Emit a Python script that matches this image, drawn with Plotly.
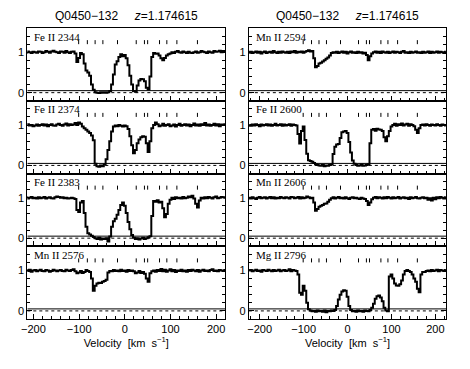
import plotly.graph_objects as go

# ---------------- data ----------------
VELOCITY = [
    -224, -220, -216, -212, -208, -204, -200, -196, -192, -188,
    -184, -180, -176, -172, -168, -164, -160, -156, -152, -148,
    -144, -140, -136, -132, -128, -124, -120, -116, -112, -108,
    -104, -100, -96, -92, -88, -84, -80, -76, -72, -68,
    -64, -60, -56, -52, -48, -44, -40, -36, -32, -28,
    -24, -20, -16, -12, -8, -4, 0, 4, 8, 12,
    16, 20, 24, 28, 32, 36, 40, 44, 48, 52,
    56, 60, 64, 68, 72, 76, 80, 84, 88, 92,
    96, 100, 104, 108, 112, 116, 120, 124, 128, 132,
    136, 140, 144, 148, 152, 156, 160, 164, 168, 172,
    176, 180, 184, 188, 192, 196, 200, 204, 208, 212,
    216, 220, 224,
]

FEII_2344 = [
    1.00, 1.01, 0.99, 1.02, 1.00, 0.98, 1.01, 1.00, 0.99, 1.02,
    1.01, 0.98, 1.00, 1.03, 1.01, 0.99, 1.02, 1.04, 1.01, 1.00,
    0.98, 1.02, 1.01, 0.99, 1.03, 1.00, 0.98, 1.01, 1.02, 0.97,
    0.76, 0.86, 0.98, 0.95, 0.72, 0.55, 0.50, 0.42, 0.20, 0.07,
    0.01, 0.00, -0.01, 0.01, 0.00, 0.01, 0.00, 0.01, 0.04, 0.20,
    0.45, 0.70, 0.78, 0.88, 0.95, 0.90, 0.93, 0.85, 0.68, 0.42,
    0.20, 0.04, 0.02, 0.18, 0.30, 0.34, 0.33, 0.28, 0.12, 0.08,
    0.40, 0.88, 0.98, 0.96, 0.97, 0.92, 0.85, 0.80, 0.86, 0.92,
    0.95, 0.97, 1.00, 0.98, 1.01, 1.03, 1.00, 0.99, 1.02, 1.00,
    0.98, 1.01, 0.99, 0.98, 1.00, 1.02, 0.99, 1.00, 1.03, 1.01,
    1.00, 0.98, 1.02, 1.00, 0.99, 1.03, 1.01, 1.02, 1.04, 1.00,
    1.03, 1.01, 1.00,
]

FEII_2374 = [
    1.00, 0.98, 1.01, 1.02, 0.99, 1.00, 0.97, 0.99, 1.01, 0.98,
    1.00, 1.02, 0.99, 1.01, 0.97, 1.00, 1.02, 0.99, 0.98, 1.01,
    1.03, 1.00, 0.98, 1.01, 1.04, 0.99, 1.02, 1.00, 1.01, 1.05,
    1.00, 1.06, 1.03, 0.96, 0.92, 0.88, 0.84, 0.80, 0.74, 0.62,
    0.04, -0.02, -0.03, 0.00, -0.02, 0.02, 0.15, 0.38, 0.60, 0.84,
    0.96, 0.99, 0.97, 1.00, 0.98, 0.96, 0.99, 0.97, 0.90, 0.72,
    0.50, 0.30, 0.38, 0.55, 0.64, 0.70, 0.72, 0.71, 0.55, 0.33,
    0.60, 0.92, 1.00, 1.06, 1.02, 0.97, 0.99, 1.03, 0.98, 1.00,
    1.02, 0.97, 0.99, 1.01, 0.96, 1.00, 1.03, 0.98, 1.00, 1.02,
    0.99, 1.01, 0.97, 1.00, 1.04, 0.99, 1.01, 0.98, 1.02, 1.00,
    1.05, 0.99, 1.01, 0.98, 1.00, 1.03, 0.99, 1.02, 0.97, 1.01,
    1.00, 1.02, 0.99,
]

FEII_2383 = [
    1.00, 0.99, 1.01, 0.98, 1.00, 1.02, 0.99, 1.00, 0.98, 1.01,
    0.99, 1.00, 1.02, 0.98, 1.00, 1.01, 0.99, 0.98, 1.01, 1.03,
    1.02, 1.00, 1.01, 0.99, 1.00, 0.98, 0.99, 1.00, 0.99, 0.97,
    0.70, 0.65, 0.88, 0.92, 0.62, 0.28, 0.12, 0.09, 0.06, 0.03,
    0.00, -0.02, 0.01, -0.03, -0.01, -0.02, 0.00, -0.08, 0.04, 0.28,
    0.42, 0.48, 0.58, 0.70, 0.82, 0.88, 0.80, 0.62, 0.40, 0.22,
    0.08, 0.01, -0.02, 0.00, -0.03, -0.01, 0.01, -0.02, 0.00, 0.02,
    0.05, 0.55, 0.92, 0.90, 0.94, 0.88, 0.90, 0.74, 0.52, 0.60,
    0.85, 0.95, 1.00, 0.97, 1.01, 0.99, 1.00, 0.98, 1.02, 0.99,
    1.00, 1.03, 1.01, 1.05, 0.98, 0.85, 0.76, 0.93, 1.00, 0.98,
    1.01, 0.99, 1.02, 1.00, 0.98, 1.01, 1.03, 0.99, 1.00, 1.02,
    1.01, 1.00, 0.99,
]

MNII_2576 = [
    1.00, 0.98, 1.01, 0.99, 1.02, 0.97, 1.00, 1.01, 0.98, 1.00,
    1.02, 0.99, 0.98, 1.01, 1.00, 0.97, 0.99, 1.02, 1.00, 0.98,
    1.00, 1.01, 0.99, 0.98, 1.02, 1.00, 0.99, 1.01, 1.03, 0.98,
    0.93, 0.95, 0.99, 0.94, 0.96, 1.01, 0.99, 0.96, 0.80, 0.50,
    0.62, 0.68, 0.70, 0.69, 0.72, 0.74, 0.77, 0.95, 0.99, 0.98,
    1.01, 0.99, 1.00, 0.98, 1.02, 0.99, 1.00, 0.97, 1.01, 0.99,
    1.00, 0.98, 0.93, 0.95, 0.99, 0.94, 0.96, 0.92, 0.80, 0.72,
    0.93, 0.98, 1.00, 0.97, 1.01, 0.99, 1.04, 0.98, 1.02, 0.97,
    1.00, 1.03, 0.98, 1.01, 0.96, 1.00, 0.99, 1.02, 0.98, 1.00,
    0.97, 1.01, 0.99, 1.02, 1.00, 0.98, 1.01, 0.97, 1.00, 1.02,
    0.99, 1.00, 0.98, 1.01, 1.03, 0.99, 1.00, 0.98, 1.01, 1.00,
    0.99, 1.01, 1.00,
]

MNII_2594 = [
    0.99, 1.01, 0.98, 1.00, 1.02, 0.99, 1.01, 0.97, 1.00, 1.02,
    0.98, 1.00, 1.01, 0.99, 1.03, 1.00, 0.98, 1.01, 0.99, 1.02,
    1.00, 0.99, 1.01, 0.98, 1.02, 1.00, 1.03, 0.99, 1.01, 1.00,
    1.02, 0.99, 1.01, 1.03, 1.05, 1.02, 1.03, 0.85, 0.63, 0.66,
    0.72, 0.74, 0.77, 0.80, 0.84, 0.87, 0.92, 0.98, 1.00, 0.99,
    1.01, 0.98, 1.00, 1.02, 0.99, 1.01, 0.97, 1.00, 1.02, 0.99,
    1.00, 0.98, 1.01, 0.99, 1.00, 0.97, 0.99, 0.93, 0.80, 0.90,
    0.97, 1.00, 1.02, 0.99, 1.01, 0.98, 1.02, 1.00, 0.99, 1.01,
    0.98, 1.00, 1.02, 0.99, 1.01, 1.00, 0.98, 1.01, 1.03, 0.99,
    1.00, 0.98, 1.01, 0.99, 1.00, 1.02, 0.99, 1.00, 0.98, 1.01,
    0.99, 1.00, 1.02, 0.98, 1.01, 0.99, 1.00, 1.02, 0.99, 1.01,
    1.00, 0.98, 1.01,
]

FEII_2600 = [
    1.00, 0.98, 1.01, 0.99, 1.02, 1.00, 0.97, 1.01, 0.99, 1.00,
    1.02, 0.99, 1.01, 0.98, 1.00, 1.03, 0.99, 1.00, 1.02, 0.98,
    1.01, 0.99, 1.00, 1.02, 0.98, 1.01, 1.00, 0.99, 0.78, 0.54,
    0.85, 0.96, 0.63, 0.29, 0.13, 0.11, 0.09, 0.06, 0.03, 0.01,
    0.00, -0.01, 0.01, -0.02, 0.00, -0.01, 0.01, 0.02, 0.28, 0.46,
    0.52, 0.53, 0.68, 0.82, 0.84, 0.85, 0.80, 0.58, 0.32, 0.12,
    0.04, 0.01, -0.01, 0.00, 0.02, -0.01, 0.00, 0.01, 0.03, 0.55,
    0.88, 0.90, 0.86, 0.91, 0.89, 0.88, 0.85, 0.70, 0.60, 0.72,
    0.85, 0.96, 1.00, 1.03, 0.98, 1.02, 1.00, 1.04, 0.99, 1.01,
    1.03, 0.98, 1.02, 1.00, 0.97, 0.88, 0.80, 0.92, 1.00, 1.01,
    0.99, 1.02, 1.00, 0.98, 1.01, 1.00, 0.99, 1.02, 1.00, 0.98,
    1.01, 1.00, 0.99,
]

MNII_2606 = [
    1.00, 0.98, 1.01, 0.99, 0.97, 1.00, 1.02, 0.99, 1.00, 1.01,
    0.98, 1.00, 1.02, 0.99, 1.01, 0.98, 1.00, 0.99, 1.02, 1.00,
    0.99, 1.01, 1.00, 0.98, 1.02, 1.01, 0.99, 1.00, 1.02, 0.98,
    1.01, 0.99, 1.00, 1.03, 1.01, 0.99, 1.00, 0.88, 0.68, 0.72,
    0.78, 0.80, 0.82, 0.85, 0.86, 0.90, 0.95, 0.99, 1.01, 0.98,
    1.00, 1.02, 0.99, 1.00, 0.98, 1.01, 0.99, 0.97, 1.00, 1.01,
    0.99, 1.00, 0.98, 0.97, 1.00, 0.98, 0.97, 0.92, 0.82, 0.88,
    0.96, 1.00, 1.02, 0.99, 1.01, 1.00, 0.98, 1.01, 0.99, 1.02,
    1.00, 0.98, 1.01, 0.99, 1.00, 1.02, 0.98, 1.00, 1.01, 0.99,
    1.00, 0.97, 1.01, 0.99, 1.00, 1.02, 0.99, 0.98, 1.00, 1.01,
    0.99, 1.00, 0.95, 0.99, 0.93, 1.00, 0.96, 1.01, 0.99, 1.02,
    1.00, 0.98, 1.01,
]

MGII_2796 = [
    1.00, 1.01, 0.98, 1.00, 1.02, 0.99, 1.00, 0.97, 1.01, 1.00,
    0.99, 1.02, 1.00, 0.98, 1.01, 0.99, 1.00, 1.02, 0.98, 1.00,
    1.01, 0.99, 1.00, 1.03, 0.98, 1.01, 1.00, 0.99, 0.90, 0.45,
    0.40, 0.62, 0.50, 0.20, 0.04, 0.01, -0.01, 0.00, -0.02, 0.01,
    -0.01, 0.00, -0.02, 0.01, -0.03, 0.00, -0.01, 0.01, 0.00, 0.02,
    0.12, 0.28, 0.40, 0.48, 0.51, 0.50, 0.35, 0.12, 0.02, -0.01,
    0.00, -0.02, 0.01, -0.01, 0.00, -0.02, 0.01, 0.00, -0.01, 0.02,
    0.08, 0.18, 0.30, 0.36, 0.38, 0.33, 0.24, 0.08, 0.01, -0.01,
    0.85, 0.90, 0.80, 0.68, 0.63, 0.62, 0.66, 0.75, 0.90, 0.99,
    1.01, 0.99, 0.96, 0.90, 0.80, 0.72, 0.55, 0.46, 0.90, 0.96,
    0.96, 0.99, 1.00, 0.98, 1.01, 0.99, 1.00, 1.02, 0.98, 1.01,
    1.00, 0.99, 1.01,
]

# velocity components (tick marks)
COMPONENTS = [-101, -82, -65, -48, -16, 25, 43, 50, 76, 92, 114, 159]

PANEL_LABELS = ["Fe II 2344", "Fe II 2374", "Fe II 2383", "Mn II 2576",
                "Mn II 2594", "Fe II 2600", "Mn II 2606", "Mg II 2796"]
PANEL_FLUX = [FEII_2344, FEII_2374, FEII_2383, MNII_2576,
              MNII_2594, FEII_2600, MNII_2606, MGII_2796]

X_TICKS = [-200, -100, 0, 100, 200]
Y_TICKS = [0, 1]
ZERO_LEVEL = 0.0
ERROR_LEVEL = 0.05
TICK_LOW, TICK_HIGH = 1.2, 1.3

NB = "\u00a0"
TITLE = f"Q0450\u2212132{NB * 5}<i>z</i>=1.174615"
XLABEL = f"Velocity{NB}{NB}[km{NB}{NB}s<sup>\u22121</sup>]"

# ---------------- layout geometry ----------------
# page coordinates; the HTML body adds an 8px margin around the figure
OFF = 8
W, H = 470 - 2 * OFF, 369 - 2 * OFF
col_x = [(21.5, 222.0), (246.0, 446.0)]
col_range = [(-213.4, 219.7), (-224.7, 224.7)]
row_y = [(28.0, 100.75), (100.75, 173.5), (173.5, 246.25), (246.25, 319.0)]


def fx(px):
    return (px - OFF) / W


def fy(py):
    return 1 - (py - OFF) / H


fig = go.Figure()
layout = dict(
    width=W, height=H, autosize=False,
    margin=dict(l=0, r=0, t=0, b=0, pad=0),
    paper_bgcolor="white", plot_bgcolor="white",
    showlegend=False,
    font=dict(family="Liberation Sans, Arial, sans-serif", size=11, color="black"),
)

annotations = []
idx = 0
for c in range(2):
    for r in range(4):
        n = idx + 1
        xa = "xaxis" if n == 1 else f"xaxis{n}"
        ya = "yaxis" if n == 1 else f"yaxis{n}"
        xr = "x" if n == 1 else f"x{n}"
        yr = "y" if n == 1 else f"y{n}"
        x0, x1 = col_x[c]
        y0, y1 = row_y[r]
        lo, hi = col_range[c]
        layout[xa] = dict(
            domain=[fx(x0), fx(x1)], anchor=yr, range=[lo, hi],
            showline=True, linecolor="black", linewidth=1, mirror=True,
            ticks="inside", ticklen=5, tickwidth=1, tickcolor="black",
            tickvals=X_TICKS, showticklabels=(r == 3),
            tickfont=dict(size=11),
            minor=dict(ticks="inside", dtick=20, tick0=0, ticklen=3,
                       tickcolor="black", tickwidth=1),
            showgrid=False, zeroline=False, fixedrange=True,
        )
        if r == 3:
            layout[xa]["title"] = dict(text=XLABEL, font=dict(size=11), standoff=4)
        layout[ya] = dict(
            domain=[fy(y1), fy(y0)], anchor=xr, range=[-0.2, 1.6],
            showline=True, linecolor="black", linewidth=1, mirror="ticks",
            ticks="inside", ticklen=5, tickwidth=1, tickcolor="black",
            tickvals=Y_TICKS, ticktext=["0", "1"], tickfont=dict(size=11),
            minor=dict(ticks="inside", dtick=0.2, tick0=0, ticklen=3,
                       tickcolor="black", tickwidth=1),
            showgrid=False, zeroline=False, fixedrange=True,
        )
        # zero level (dotted) and error level (solid)
        fig.add_trace(go.Scatter(x=[lo, hi], y=[ZERO_LEVEL, ZERO_LEVEL], mode="lines",
                                 line=dict(color="black", width=1, dash="dot"),
                                 xaxis=xr, yaxis=yr, hoverinfo="skip"))
        fig.add_trace(go.Scatter(x=[lo, hi], y=[ERROR_LEVEL, ERROR_LEVEL], mode="lines",
                                 line=dict(color="black", width=1),
                                 xaxis=xr, yaxis=yr, hoverinfo="skip"))
        # component ticks
        tx, ty = [], []
        for v in COMPONENTS:
            tx += [v, v, None]
            ty += [TICK_LOW, TICK_HIGH, None]
        fig.add_trace(go.Scatter(x=tx, y=ty, mode="lines",
                                 line=dict(color="black", width=1),
                                 xaxis=xr, yaxis=yr, hoverinfo="skip"))
        # spectrum
        fig.add_trace(go.Scatter(x=VELOCITY, y=PANEL_FLUX[idx], mode="lines",
                                 line=dict(color="black", width=2, shape="hvh"),
                                 xaxis=xr, yaxis=yr))
        annotations.append(dict(
            text=PANEL_LABELS[idx], xref=f"{xr} domain", yref=f"{yr} domain",
            x=0.025, y=0.99, xanchor="left", yanchor="top", showarrow=False,
            font=dict(family="Liberation Serif, DejaVu Serif, serif", size=11),
        ))
        idx += 1

for c in range(2):
    x0, x1 = col_x[c]
    annotations.append(dict(
        text=TITLE, xref="paper", yref="paper", x=fx((x0 + x1) / 2), y=1.0,
        xanchor="center", yanchor="top", showarrow=False, borderpad=0,
        font=dict(size=12),
    ))

layout["annotations"] = annotations
fig.update_layout(**layout)
fig.write_html("out.html", config={"displayModeBar": False})
